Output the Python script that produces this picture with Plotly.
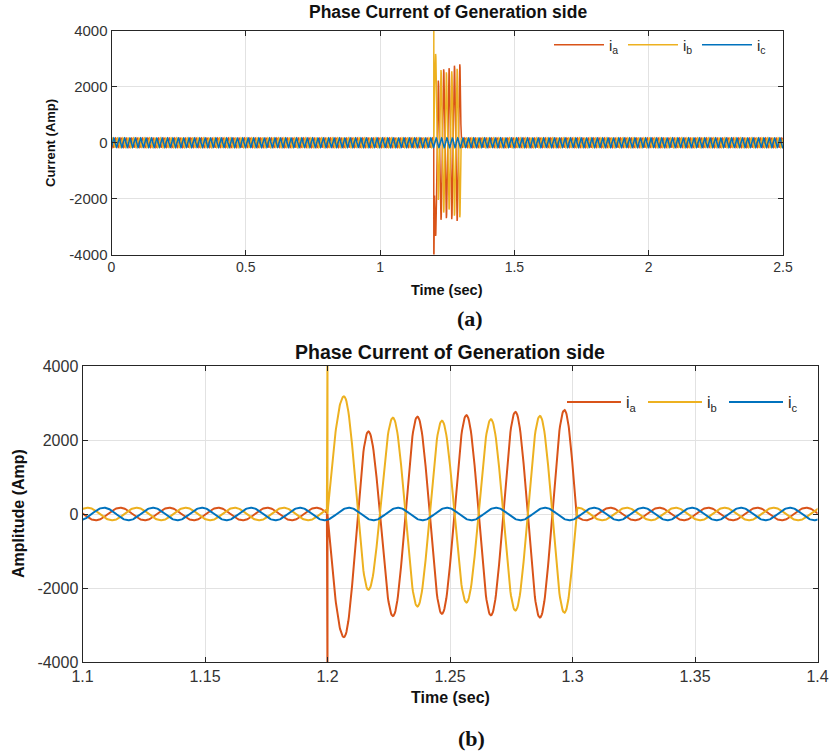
import numpy as np
import plotly.graph_objects as go

# ---------------------------------------------------------------------------
# Generator-side phase currents: healthy operation, fault 1.2 s - 1.3 s
# ---------------------------------------------------------------------------
F_HZ = 50.0                 # supply frequency
AMP_NORMAL = 170.0          # A, crest of each phase in healthy operation
IA_PEAK_TIME = 1.1954       # s, a positive crest of i_a before the fault
FAULT_START = 1.2           # s
FAULT_CLEAR = 1.3015        # s, current back to the healthy waveform

# crests of i_a and i_b while the fault is on
FAULT_CREST_T = [1.2067, 1.2167, 1.2267, 1.2367, 1.2467,
                 1.2567, 1.2667, 1.2767, 1.2867, 1.2967]
IA_CREST = [-3330, 2230, -2760, 2630, -2700, 2670, -2740, 2760, -2800, 2810]
IB_CREST = [3180, -2050, 2600, -2500, 2520, -2390, 2560, -2610, 2650, -2670]
IA_SPIKE = -4700            # switching transient at fault inception
IB_SPIKE = 4700

PHASE_NAMES = ["i<sub>a</sub>", "i<sub>b</sub>", "i<sub>c</sub>"]
PHASE_COLORS = ["#D95319", "#EDB120", "#0072BD"]

TOP_X_TICKS = [0, 0.5, 1, 1.5, 2, 2.5]
TOP_X_LABELS = ["0", "0.5", "1", "1.5", "2", "2.5"]
BOT_X_TICKS = [1.1, 1.15, 1.2, 1.25, 1.3, 1.35, 1.4]
BOT_X_LABELS = ["1.1", "1.15", "1.2", "1.25", "1.3", "1.35", "1.4"]
Y_TICKS = [-4000, -2000, 0, 2000, 4000]
Y_LABELS = ["-4000", "-2000", "0", "2000", "4000"]

TITLE = "Phase Current of Generation side"

# ---------------------------------------------------------------------------
dt = 0.00025
t = np.arange(0.0, 2.5 + dt / 2, dt)


def healthy(tt, lag_cycles):
    return AMP_NORMAL * np.cos(2 * np.pi * F_HZ * (tt - IA_PEAK_TIME) - 2 * np.pi * lag_cycles)


def fault_segment(spike, crests):
    """Knots: spike, zero crossing, crests, zero at clearing; joined by sine arcs."""
    ts = [FAULT_START, FAULT_START]
    vs = [spike, 0.0]
    ts += FAULT_CREST_T + [FAULT_CLEAR]
    vs += list(crests) + [0.0]
    out_t, out_v = [ts[0]], [vs[0]]
    for i in range(1, len(ts)):
        t0, t1, v0, v1 = ts[i - 1], ts[i], vs[i - 1], vs[i]
        if t1 <= t0:
            out_t.append(t1)
            out_v.append(v1)
            continue
        s = np.linspace(0, 1, 40)[1:]
        if v0 == 0:
            seg = v1 * np.sin(np.pi / 2 * s)
        elif v1 == 0:
            seg = v0 * np.cos(np.pi / 2 * s)
        else:
            seg = v0 + (v1 - v0) * (1 - np.cos(np.pi * s)) / 2
        out_t.extend(t0 + (t1 - t0) * s)
        out_v.extend(seg)
    return np.array(out_t), np.array(out_v)


def faulted_phase(lag_cycles, spike, crests):
    pre = t < FAULT_START
    post = t > FAULT_CLEAR
    ft, fv = fault_segment(spike, crests)
    tt = np.concatenate([t[pre], ft, t[post]])
    vv = np.concatenate([healthy(t[pre], lag_cycles), fv, healthy(t[post], lag_cycles)])
    return tt, vv


ta, ia = faulted_phase(0.0, IA_SPIKE, IA_CREST)
tb, ib = faulted_phase(1 / 3, IB_SPIKE, IB_CREST)
tc, ic = t, healthy(t, 2 / 3)
series = [(ta, ia), (tb, ib), (tc, ic)]

# ---------------------------------------------------------------------------
W, H = 830, 751


def px_x(x):
    return x / W


def px_y(y):
    return 1 - y / H


fig = go.Figure()

for k, (tt, vv) in enumerate(series):
    fig.add_trace(go.Scatter(
        x=tt, y=vv, mode="lines", name=PHASE_NAMES[k],
        line=dict(color=PHASE_COLORS[k], width=1.5),
        xaxis="x", yaxis="y", legend="legend", hoverinfo="skip"))
for k, (tt, vv) in enumerate(series):
    sel = (tt >= 1.09) & (tt <= 1.41)
    fig.add_trace(go.Scatter(
        x=tt[sel], y=vv[sel], mode="lines", name=PHASE_NAMES[k],
        line=dict(color=PHASE_COLORS[k], width=2),
        xaxis="x2", yaxis="y2", legend="legend2", hoverinfo="skip"))

axis_common = dict(
    showline=True, linecolor="#262626", linewidth=1, mirror="ticks",
    ticks="inside", ticklen=5, tickcolor="#262626",
    showgrid=True, gridcolor="#E2E2E2", gridwidth=1, zeroline=False,
    tickfont=dict(family="Liberation Sans, Arial, sans-serif", color="#333333"),
)

top_x = [px_x(111.5), px_x(783)]
top_y = [px_y(254.5), px_y(31)]
bot_x = [px_x(82.5), px_x(817.5)]
bot_y = [px_y(662), px_y(366)]

fig.update_layout(
    width=W, height=H, margin=dict(l=0, r=0, t=0, b=0, autoexpand=False),
    paper_bgcolor="white", plot_bgcolor="white",
    xaxis=dict(axis_common, domain=top_x, range=[0, 2.5], anchor="y",
               tickvals=TOP_X_TICKS, ticktext=TOP_X_LABELS,
               tickfont=dict(axis_common["tickfont"], size=14)),
    yaxis=dict(axis_common, domain=top_y, range=[-4000, 4000], anchor="x",
               tickvals=Y_TICKS, ticktext=Y_LABELS,
               tickfont=dict(axis_common["tickfont"], size=15)),
    xaxis2=dict(axis_common, domain=bot_x, range=[1.1, 1.4], anchor="y2",
                tickvals=BOT_X_TICKS, ticktext=BOT_X_LABELS,
                tickfont=dict(axis_common["tickfont"], size=16)),
    yaxis2=dict(axis_common, domain=bot_y, range=[-4000, 4000], anchor="x2",
                tickvals=Y_TICKS, ticktext=Y_LABELS,
                tickfont=dict(axis_common["tickfont"], size=16)),
    legend=dict(orientation="h", x=px_x(549), y=px_y(45), xanchor="left", yanchor="middle",
                bgcolor="rgba(0,0,0,0)", itemwidth=50, entrywidth=9,
                font=dict(family="Liberation Sans, Arial, sans-serif", size=15, color="#262626")),
    legend2=dict(orientation="h", x=px_x(562), y=px_y(402), xanchor="left", yanchor="middle",
                 bgcolor="rgba(0,0,0,0)", itemwidth=54, entrywidth=12,
                 font=dict(family="Liberation Sans, Arial, sans-serif", size=16, color="#262626")),
    showlegend=True,
)

bold = "Liberation Sans, Arial, sans-serif"
serif = "Liberation Serif, Times New Roman, serif"
notes = [
    (448, 12, "<b>" + TITLE + "</b>", bold, 17.5, 0),
    (450, 352, "<b>" + TITLE + "</b>", bold, 19.5, 0),
    (447, 290, "<b>Time (sec)</b>", bold, 14.5, 0),
    (450, 697, "<b>Time (sec)</b>", bold, 16, 0),
    (51, 143, "<b>Current (Amp)</b>", bold, 13, -90),
    (18, 514, "<b>Amplitude (Amp)</b>", bold, 16, -90),
    (470, 318, "<b>(a)</b>", serif, 22, 0),
    (471, 738, "<b>(b)</b>", serif, 22, 0),
]
for x, y, text, fam, size, ang in notes:
    fig.add_annotation(x=px_x(x), y=px_y(y), xref="paper", yref="paper",
                       text=text, showarrow=False, textangle=ang,
                       xanchor="center", yanchor="middle",
                       font=dict(family=fam, size=size, color="#111111"))

fig.write_html("out.html")
